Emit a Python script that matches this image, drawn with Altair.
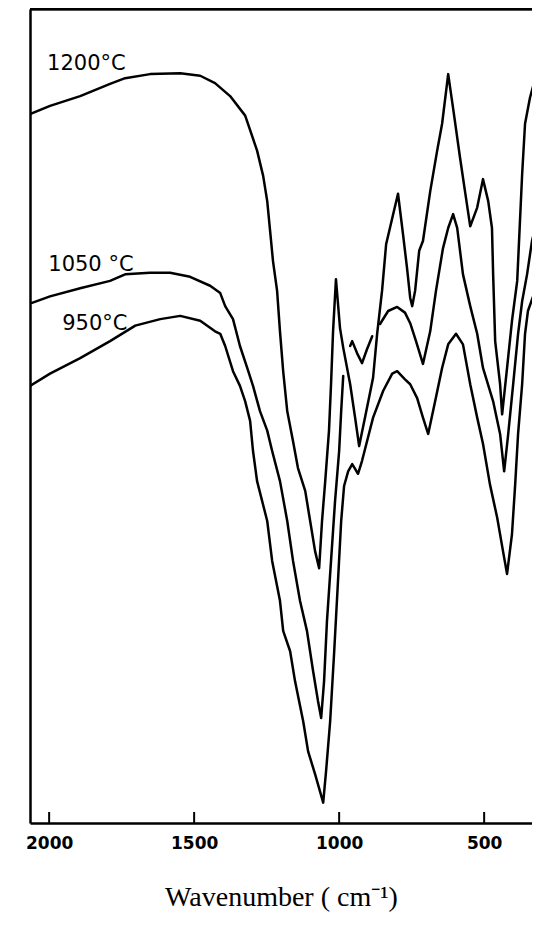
import altair as alt
import pandas as pd

# ---- Data (wavenumber in cm^-1, transmittance in arbitrary units 0-100)
wn_1200 = [2066, 1997, 1893, 1790, 1738, 1652, 1548, 1479, 1428, 1376, 1324, 1283, 1262, 1248,
           1238, 1228, 1214, 1204, 1193, 1179, 1159, 1142, 1117, 1100, 1083, 1069, 1059, 1048,
           1035, 1028, 1021, 1011, 997, 986, 962, 945, 931, 911, 883, 869, 852, 838, 817, 797,
           780, 766, 755, 748, 738, 724, 711, 686, 662, 645, 624, 607, 583, 566, 548, 524, 504,
           486, 473, 469, 462, 445, 438, 421, 404, 386, 369, 359, 342, 314]
t_1200 = [87.1, 88.1, 89.3, 90.8, 91.5, 92.0, 92.1, 91.8, 90.9, 89.3, 86.9, 82.6, 79.5, 76.4,
          72.7, 69.0, 65.4, 60.4, 55.5, 50.6, 46.9, 43.6, 40.8, 37.1, 33.4, 31.3, 37.1, 42.0,
          48.2, 53.9, 60.4, 66.8, 60.8, 58.4, 53.9, 49.8, 46.3, 49.8, 54.7, 60.1, 65.4, 71.1, 74.3, 77.3,
          72.4, 68.2, 64.5, 63.5, 65.4, 70.3, 71.5, 77.6, 82.6, 85.9, 92.0, 87.8, 81.7, 77.6, 73.3, 75.6, 79.1,
          76.4, 73.1, 67.4, 59.2, 53.9, 50.2, 55.9, 61.7, 66.6, 79.7, 85.9, 89.1, 92.8]

# 1050 C curve: the recorder trace has two small pen gaps near 990 and 880 cm-1
wn_1050_a = [2059, 1997, 1893, 1790, 1738, 1652, 1583, 1514, 1445, 1410, 1393, 1366, 1342, 1317,
             1297, 1273, 1248, 1231, 1204, 1179, 1159, 1135, 1111, 1090, 1073, 1062, 1052, 1042,
             1028, 1014, 1000, 993, 986]
t_1050_a = [63.9, 64.7, 65.7, 66.6, 67.4, 67.6, 67.6, 67.1, 66.0, 65.1, 63.5, 61.9, 58.6, 55.9,
            53.7, 50.6, 48.2, 45.7, 42.0, 37.1, 32.2, 27.3, 23.6, 18.7, 15.0, 12.9, 17.4, 24.8,
            32.2, 39.6, 45.7, 50.6, 54.9]
wn_1050_b = [962, 955, 938, 921, 904, 886]
t_1050_b = [58.6, 59.2, 57.7, 56.5, 58.2, 59.8]
wn_1050_c = [859, 831, 800, 773, 755, 735, 711, 686, 666, 642, 624, 607, 593, 573, 548, 524, 504,
             469, 445, 431, 417, 400, 383, 369, 352, 335, 307]
t_1050_c = [61.3, 62.9, 63.4, 62.7, 61.4, 59.2, 56.4, 60.4, 65.4, 70.6, 73.1, 74.8, 73.1, 67.4,
            63.5, 60.1, 55.9, 51.8, 47.8, 43.2, 47.8, 53.9, 60.1, 64.1, 67.4, 71.5, 75.6]

wn_950 = [2066, 1997, 1893, 1790, 1703, 1617, 1548, 1479, 1428, 1410, 1393, 1366, 1342, 1324,
          1307, 1297, 1283, 1248, 1231, 1204, 1193, 1169, 1152, 1124, 1107, 1083, 1055, 1045,
          1031, 1017, 1004, 993, 983, 969, 955, 945, 935, 921, 883, 848, 817, 800, 773, 755,
          731, 711, 693, 669, 645, 624, 597, 573, 548, 524, 504, 480, 455, 435, 421, 404, 393,
          383, 369, 359, 349, 324, 307]
t_950 = [53.7, 55.2, 57.1, 59.2, 61.1, 61.9, 62.3, 61.7, 60.4, 60.1, 58.6, 55.5, 53.7, 51.8,
         49.4, 45.7, 42.0, 37.1, 32.2, 27.3, 23.6, 21.1, 17.4, 12.5, 8.8, 6.0, 2.5, 6.4,
         12.5, 21.1, 29.7, 37.1, 41.4, 43.2, 44.1, 43.5, 42.9, 44.5, 49.8, 53.1, 55.2, 55.5, 54.5, 53.9,
         52.2, 49.8, 47.8, 51.8, 55.9, 58.8, 60.1, 58.8, 53.9, 49.8, 46.6, 41.6, 37.5, 33.4, 30.6, 35.5, 41.6,
         47.8, 53.9, 60.1, 62.9, 65.4, 66.6]

label_texts = ["1200°C", "1050 °C", "950°C"]
label_wn = [2007, 2003, 1955]
label_t = [93.3, 68.6, 61.3]

tick_values = [2000, 1500, 1000, 500]

# ---- Build tables
rows = []
for name, seg, wns, ts in [("1200", "1200", wn_1200, t_1200),
                           ("1050", "1050a", wn_1050_a, t_1050_a),
                           ("1050", "1050b", wn_1050_b, t_1050_b),
                           ("1050", "1050c", wn_1050_c, t_1050_c),
                           ("950", "950", wn_950, t_950)]:
    for i, (w, t) in enumerate(zip(wns, ts)):
        rows.append({"series": name, "seg": seg, "i": i, "wn": w, "t": t})
df = pd.DataFrame(rows)
df_labels = pd.DataFrame({"wn": label_wn, "t": label_t, "text": label_texts})
df_ticks = pd.DataFrame({"wn": tick_values})

W, H = 502, 814

xscale = alt.Scale(domain=[335, 2066], reverse=True, nice=False, zero=False)
yscale = alt.Scale(domain=[0, 100], nice=False, zero=False)

x_enc = alt.X("wn:Q", scale=xscale,
              axis=alt.Axis(values=tick_values, format="d", title="Wavenumber ( cm⁻¹)", tickSize=0,
                            labelPadding=12, labelFont="DejaVu Sans", labelFontSize=17,
                            labelFontWeight="bold", labelColor="black",
                            domainColor="black", domainWidth=2.5, grid=False,
                            titleFont="Liberation Serif", titleFontSize=28,
                            titleFontWeight="normal", titleColor="black", titlePadding=32))
y_enc = alt.Y("t:Q", scale=yscale,
              axis=alt.Axis(title=None, labels=False, ticks=False, grid=False,
                            domainColor="black", domainWidth=2.5))

lines = alt.Chart(df).mark_line(color="black", strokeWidth=2.5, strokeJoin="round",
                                strokeCap="round", clip=True).encode(
    x=x_enc, y=y_enc, detail="seg:N", order="i:Q")

ticks = alt.Chart(df_ticks).mark_rule(color="black", strokeWidth=2).encode(
    x="wn:Q", y=alt.value(H), y2=alt.value(H - 11))

top_border = alt.Chart(df_ticks).mark_rule(color="black", strokeWidth=2.5).encode(
    x=alt.value(0), x2=alt.value(W), y=alt.value(0))

labels = alt.Chart(df_labels).mark_text(align="left", baseline="middle", font="DejaVu Sans",
                                        fontSize=21, color="black").encode(
    x="wn:Q", y="t:Q", text="text:N")

chart = alt.layer(lines, ticks, top_border, labels).properties(
    width=W, height=H,
    autosize=alt.AutoSizeParams(type="none"),
    padding={"left": 22, "top": 1, "right": 0, "bottom": 96}
).configure_view(stroke=None)

chart.save("out.html", embed_options={"renderer": "svg", "actions": False})
